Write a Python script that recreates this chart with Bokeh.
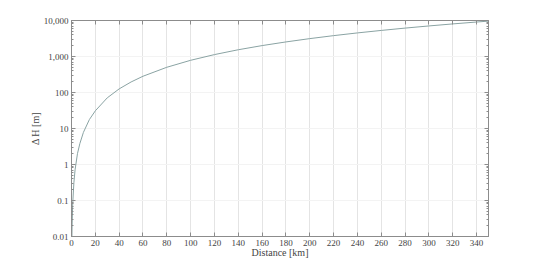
from bokeh.plotting import figure
from bokeh.models import FixedTicker, LinearAxis, LogAxis, Range1d
from bokeh.embed import file_html
from bokeh.resources import INLINE

# Data (distance in km, height drop in m)
distance_km = [0.36, 0.5, 1, 2, 3, 5, 7, 10, 15, 20, 30, 40, 50, 60, 80, 100, 120,
               140, 160, 180, 200, 220, 240, 260, 280, 300, 320, 340, 350]
delta_h_m = [0.01, 0.02, 0.08, 0.31, 0.71, 2.0, 3.8, 7.8, 17.7, 31, 71, 126, 196,
             283, 502, 785, 1130, 1540, 2010, 2540, 3140, 3800, 4520, 5300, 6150,
             7060, 8040, 9070, 9610]

x_ticks = [0, 20, 40, 60, 80, 100, 120, 140, 160, 180, 200, 220, 240, 260, 280,
           300, 320, 340]
y_ticks = [0.01, 0.1, 1, 10, 100, 1000, 10000]
y_tick_labels = ["0.01", "0.1", "1", "10", "100", "1,000", "10,000"]

FONT = "Liberation Serif"
TXT = "#444444"
AX = "#8c8c8c"

p = figure(width=540, height=265, output_backend="svg", toolbar_location=None,
           y_axis_type="log", x_range=Range1d(0, 350), y_range=Range1d(0.01, 10000),
           min_border_left=71, min_border_right=52, min_border_top=20,
           min_border_bottom=29, x_axis_location=None, y_axis_location=None)
p.outline_line_color = AX
p.background_fill_color = "white"
p.border_fill_color = "white"

minor_y = [m * 10 ** e for e in range(-2, 4) for m in range(2, 10)]

def style(ax, labels=True):
    ax.axis_line_color = AX
    ax.major_tick_line_color = AX
    ax.minor_tick_line_color = AX
    ax.major_tick_in = 4
    ax.major_tick_out = 0
    ax.minor_tick_in = 2
    ax.minor_tick_out = 0
    ax.major_label_text_font = FONT
    ax.major_label_text_font_size = "9px"
    ax.major_label_text_color = TXT
    ax.axis_label_text_font = FONT
    ax.axis_label_text_font_style = "normal"
    ax.axis_label_text_font_size = "10px"
    ax.axis_label_text_color = TXT
    if not labels:
        ax.major_label_text_color = None
        ax.major_label_standoff = 0

xb = LinearAxis(ticker=FixedTicker(ticks=x_ticks), axis_label="Distance [km]")
style(xb)
xb.major_label_standoff = 3
xb.axis_label_standoff = -2
p.add_layout(xb, "below")

xt = LinearAxis(ticker=FixedTicker(ticks=x_ticks))
style(xt, labels=False)
p.add_layout(xt, "above")

yl = LogAxis(ticker=FixedTicker(ticks=y_ticks, minor_ticks=minor_y), axis_label="Δ H [m]")
style(yl)
yl.major_label_overrides = {t: l for t, l in zip(y_ticks, y_tick_labels)}
yl.major_label_standoff = 3
yl.axis_label_standoff = 0
p.add_layout(yl, "left")

yr = LogAxis(ticker=FixedTicker(ticks=y_ticks, minor_ticks=minor_y))
style(yr, labels=False)
p.add_layout(yr, "right")

p.xgrid.ticker = FixedTicker(ticks=x_ticks)
p.xgrid.grid_line_color = "#e4e4e4"
p.ygrid.ticker = FixedTicker(ticks=y_ticks)
p.ygrid.grid_line_color = "#f3f3f3"

p.line(distance_km, delta_h_m, line_color="#8aa3a3", line_width=1)

open("out.html", "w").write(file_html(p, INLINE))
